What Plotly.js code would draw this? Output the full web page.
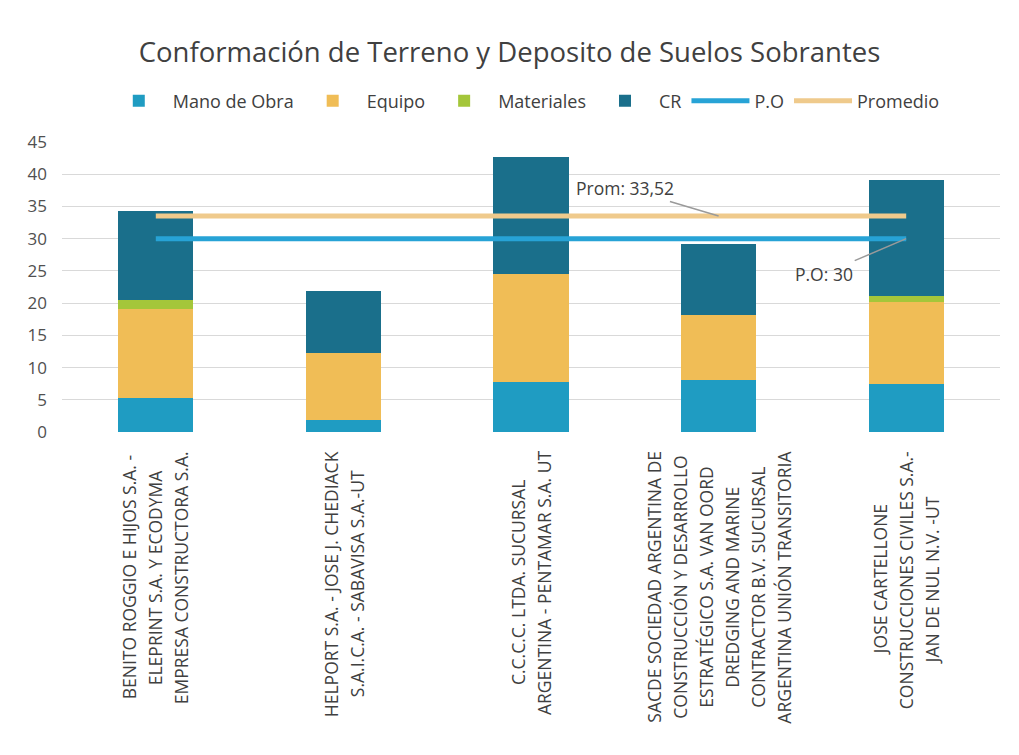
<!DOCTYPE html>
<html>
<head>
<meta charset="utf-8">
<script src="https://cdn.plot.ly/plotly-3.0.1.min.js"></script>
<style>
  html, body { margin: 0; padding: 0; background: #ffffff; }
  #chart { width: 1019px; height: 755px; }
</style>
</head>
<body>
<div id="chart"></div>
<script>
// ---- Data ----
const categoryLines = [
  ["BENITO ROGGIO E HIJOS S.A. -", "ELEPRINT S.A. Y ECODYMA", "EMPRESA CONSTRUCTORA S.A."],
  ["HELPORT S.A. - JOSE J. CHEDIACK", "S.A.I.C.A. - SABAVISA S.A.-UT"],
  ["C.C.C.C. LTDA. SUCURSAL", "ARGENTINA - PENTAMAR S.A. UT"],
  ["SACDE SOCIEDAD ARGENTINA DE", "CONSTRUCCIÓN Y DESARROLLO", "ESTRATÉGICO S.A. VAN OORD", "DREDGING AND MARINE", "CONTRACTOR B.V. SUCURSAL", "ARGENTINA UNIÓN TRANSITORIA"],
  ["JOSE CARTELLONE", "CONSTRUCCIONES CIVILES S.A.-", "JAN DE NUL N.V. -UT"]
];
const categories = categoryLines.map(l => l.join(" "));

const manoDeObra = [5.25, 1.8, 7.7, 8.0, 7.4];
const equipo     = [13.85, 10.5, 16.8, 10.2, 12.7];
const materiales = [1.4, 0, 0, 0, 1.0];
const cr         = [13.8, 9.6, 18.2, 10.9, 18.0];
const po         = [30, 30, 30, 30, 30];
const promedio   = [33.52, 33.52, 33.52, 33.52, 33.52];

const yTicks = [0, 5, 10, 15, 20, 25, 30, 35, 40, 45];
const titleText = "Conformación de Terreno y Deposito de Suelos Sobrantes";
const promLabel = "Prom: 33,52";
const poLabel = "P.O: 30";

// ---- Styling ----
const FONT = "Open Sans, Lato, sans-serif";
const TXT = "#404040";
const C_MO = "#1f9cc2";
const C_EQ = "#f0bd56";
const C_MAT = "#a4c63a";
const C_CR = "#1a6f8b";
const C_PO = "#27a3d6";
const C_PROM = "#efca8c";

const W = 1019, H = 755;
const M = {l: 62, r: 19, t: 142, b: 323};
const plotH = H - M.t - M.b;

function barTrace(name, vals, color) {
  return {type: "bar", name: name, x: categories, y: vals,
          marker: {color: color, line: {width: 0}}, hoverinfo: "skip"};
}
const traces = [
  barTrace("Mano de Obra", manoDeObra, C_MO),
  barTrace("Equipo", equipo, C_EQ),
  barTrace("Materiales", materiales, C_MAT),
  barTrace("CR", cr, C_CR),
  {type: "scatter", mode: "lines", name: "P.O", x: categories, y: po,
   line: {color: C_PO, width: 5}, hoverinfo: "skip"},
  {type: "scatter", mode: "lines", name: "Promedio", x: categories, y: promedio,
   line: {color: C_PROM, width: 5}, hoverinfo: "skip"}
];

// ---- Category labels (rotated, centred lines) ----
const LBL_SIZE = 17.5;
const canvas = document.createElement("canvas");
const ctx = canvas.getContext("2d");
ctx.font = LBL_SIZE + "px 'Open Sans'";
const LINE_GAP = 26;
const annotations = [];
categoryLines.forEach((lines, i) => {
  const maxW = Math.max(...lines.map(s => ctx.measureText(s).width));
  const centerPx = 19 + maxW / 2;
  const n = lines.length;
  lines.forEach((s, j) => {
    annotations.push({
      xref: "x", yref: "paper", x: categories[i], y: -centerPx / plotH,
      xanchor: "center", yanchor: "middle",
      xshift: (j - (n - 1) / 2) * LINE_GAP,
      text: s, textangle: -90, showarrow: false, borderpad: 0,
      font: {family: FONT, size: LBL_SIZE, color: TXT}
    });
  });
});

annotations.push({
  xref: "x", yref: "y", x: categories[3], y: promedio[3],
  text: promLabel, showarrow: true, arrowhead: 0, arrowwidth: 1.5,
  arrowcolor: "#9a9a9a", ax: -94, ay: -28, standoff: 0,
  font: {family: FONT, size: 17.5, color: TXT}
});
annotations.push({
  xref: "x", yref: "y", x: categories[4], y: po[4],
  text: poLabel, showarrow: true, arrowhead: 0, arrowwidth: 1.5,
  arrowcolor: "#9a9a9a", ax: -82, ay: 35, standoff: 0,
  font: {family: FONT, size: 17.5, color: TXT}
});

const layout = {
  width: W, height: H,
  margin: M,
  paper_bgcolor: "#ffffff", plot_bgcolor: "#ffffff",
  font: {family: FONT, color: TXT},
  barmode: "stack", bargap: 0.6,
  title: {text: titleText, font: {family: FONT, size: 27.5, color: TXT},
          x: 0.5, xanchor: "center", xref: "container",
          y: 1 - 52 / H, yanchor: "middle", yref: "container"},
  showlegend: true,
  legend: {orientation: "h", x: 0.515, xanchor: "center", xref: "container",
           y: 1 - 101 / H, yanchor: "middle", yref: "container",
           font: {family: FONT, size: 18, color: TXT}, traceorder: "normal",
           itemwidth: 58},
  xaxis: {type: "category", showticklabels: false, showgrid: false,
          zeroline: false, showline: false, ticks: "",
          range: [-0.5, 4.5], fixedrange: true},
  yaxis: {range: [0, 45], tickvals: yTicks, ticktext: yTicks.map(String),
          showgrid: true, gridcolor: "#d9d9d9", gridwidth: 1,
          zeroline: false, showline: false, ticks: "",
          ticklabelstandoff: 14,
          tickfont: {family: FONT, size: 17, color: "#505050"}, fixedrange: true},
  annotations: annotations
};

Plotly.newPlot("chart", traces, layout, {displayModeBar: false, staticPlot: true});
</script>
</body>
</html>
